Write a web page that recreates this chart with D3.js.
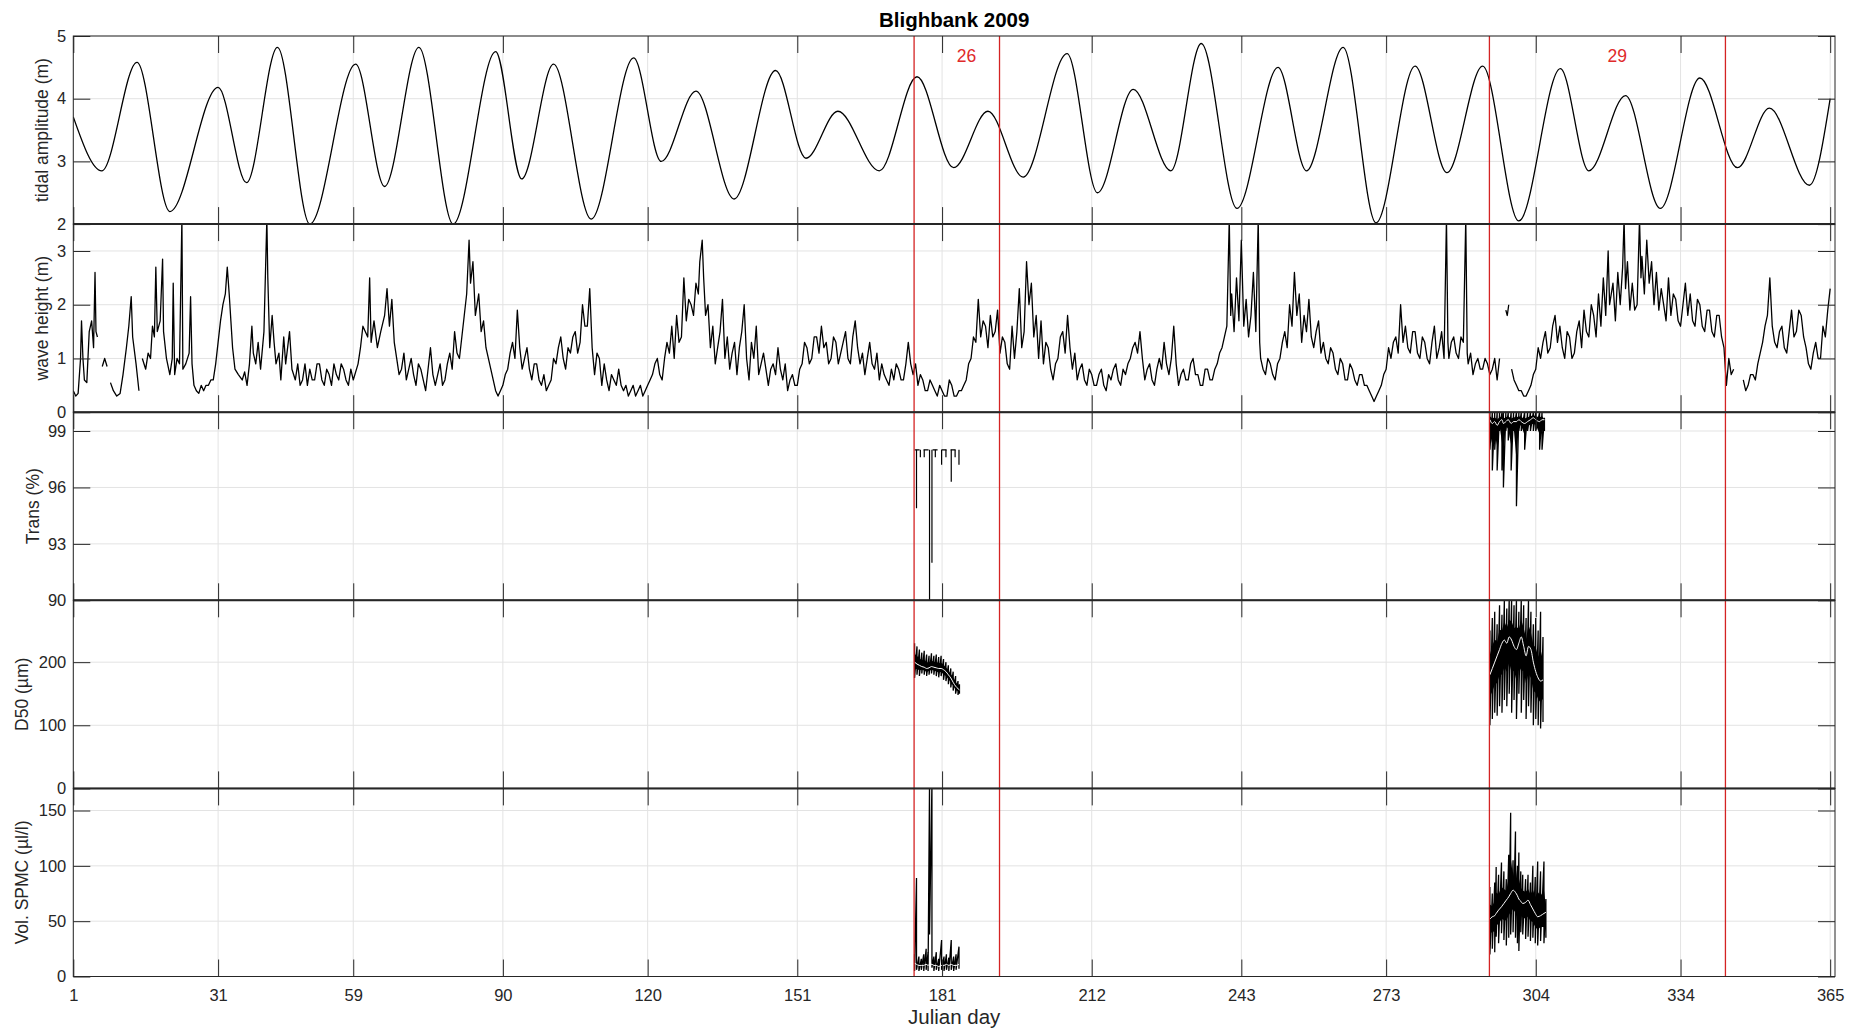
<!DOCTYPE html>
<html>
<head>
<meta charset="utf-8">
<script src="https://cdnjs.cloudflare.com/ajax/libs/d3/7.8.5/d3.min.js"></script>
<style>
  body { margin: 0; background: #fff; }
  svg { display: block; font-family: "Liberation Sans", Arial, Helvetica, sans-serif; }
</style>
</head>
<body>
<svg id="chart" width="1850" height="1032"></svg>
<script>
// ---------- data ----------
const monthTicks = [1, 31, 59, 90, 120, 151, 181, 212, 243, 273, 304, 334, 365]
const deployEdges = [175.2, 192.9, 294.4, 343.3]
const deployNames = ["26", "29"]

const panelLabels = ["tidal amplitude (m)", "wave height (m)", "Trans (%)", "D50 (\u00b5m)", "Vol. SPMC (\u00b5l/l)"]
const panelDomains = [[2, 5], [0, 3.5], [90, 100], [0, 298], [0, 170]]
const panelTicks = [[2, 3, 4, 5], [0, 1, 2, 3], [90, 93, 96, 99], [0, 100, 200], [0, 50, 100, 150]]

// spring / neap extremes of the tidal amplitude [day, m]
const tideExtremes = [
  [1, 3.71], [6.9, 2.85], [14.2, 4.58], [21.0, 2.2], [31.0, 4.18], [36.9, 2.66], [43.3, 4.82], [50.0, 2.0],
  [59.5, 4.55], [65.5, 2.6], [72.6, 4.82], [79.7, 2.0], [88.5, 4.75], [93.9, 2.72], [100.5, 4.55], [108.3, 2.08],
  [117.1, 4.65], [122.8, 3.0], [130.0, 4.12], [137.9, 2.4], [146.5, 4.45], [152.8, 3.05], [159.4, 3.8], [168.0, 2.85],
  [175.8, 4.35], [183.4, 2.9], [190.5, 3.8], [197.8, 2.75], [206.9, 4.72], [213.2, 2.5], [220.6, 4.15], [228.4, 2.85],
  [234.7, 4.88], [242.1, 2.25], [250.6, 4.5], [256.5, 2.85], [264.1, 4.82], [270.9, 2.02], [279.0, 4.52], [285.6, 2.82],
  [293.0, 4.52], [300.5, 2.05], [309.1, 4.48], [315.0, 2.85], [322.6, 4.05], [329.8, 2.25], [338.0, 4.33], [345.8, 2.9],
  [352.4, 3.85], [360.7, 2.62], [365, 4.0]
]

// significant wave height [day, m]; null = no data
const waveHeight = [
  [1,0.4],[1.5,0.3],[2,0.35],[2.5,1.0],[2.7,1.7],[3,1.0],[3.3,0.6],[3.8,0.55],[4.3,1.5],[4.8,1.7],[5.2,1.2],[5.5,2.6],[5.7,1.5],[6,1.4],[6.3,null],
  [7,0.85],[7.5,1.0],[8,0.85],[8.3,null],[8.7,0.55],[9.3,0.4],[10,0.3],[10.7,0.35],[11.3,0.7],[12,1.2],[12.5,1.6],[13,2.15],[13.3,1.4],[14,0.9],[14.6,0.4],[14.9,null],
  [15.3,1.0],[16,0.8],[16.5,1.1],[17,1.0],[17.4,1.6],[17.8,1.4],[18.1,2.7],[18.4,1.5],[19,1.7],[19.5,2.85],[19.7,1.5],[20.3,1.0],[21,0.7],[21.5,1.0],[21.7,2.4],[22,0.7],
  [22.5,1.0],[23,0.9],[23.5,3.6],[23.7,0.8],[24.3,0.9],[25,1.1],[25.3,2.15],[25.6,0.9],[26,0.5],[26.5,0.4],[27,0.35],[27.5,0.5],[28,0.4],[28.5,0.5],[29,0.5],[29.5,0.6],
  [30,0.6],[30.5,0.9],[31,1.3],[31.5,1.7],[32,2.0],[32.5,2.2],[32.9,2.7],[33.3,2.2],[34,1.2],[34.5,0.8],[35.2,0.7],[36,0.6],[36.5,0.75],[37,0.5],[37.5,0.9],[38,1.6],
  [38.3,1.1],[38.8,0.9],[39.3,1.3],[39.8,0.8],[40.5,1.5],[41.1,3.6],[41.3,2.5],[41.7,1.2],[42.2,1.8],[42.6,1.3],[43,0.9],[43.6,1.1],[44,0.6],[44.6,1.4],[45,0.9],
  [45.8,1.5],[46.3,0.8],[47,0.6],[47.5,0.9],[48,0.5],[48.5,0.6],[49,0.9],[49.5,0.5],[50,0.8],[50.5,0.6],[51,0.6],[51.5,0.9],[52,0.9],[52.5,0.6],[53,0.5],[53.5,0.8],
  [54,0.7],[54.5,0.5],[55,0.9],[55.5,0.7],[56,0.6],[56.5,0.9],[57,0.8],[57.5,0.6],[58,0.5],[58.5,0.8],[59,0.6],[60,0.9],[60.5,1.2],[61,1.6],[62,1.4],[62.4,2.5],
  [62.7,1.3],[63.3,1.7],[64,1.2],[64.7,1.5],[65.5,1.8],[66,2.3],[66.5,1.6],[67,2.1],[67.5,1.3],[68,1.0],[68.5,0.7],[69,0.8],[69.5,1.1],[70,0.6],[70.5,0.8],[71,1.0],
  [71.5,0.7],[72,0.5],[72.5,0.9],[73,0.8],[73.5,0.6],[74,0.4],[74.5,0.8],[75,1.2],[75.5,0.7],[76,0.5],[76.5,0.7],[77,0.9],[77.5,0.5],[78,0.6],[78.5,0.9],[79,1.1],
  [79.5,0.8],[80,1.5],[80.5,1.1],[81,1.0],[81.5,1.4],[82,1.8],[82.5,2.2],[83,3.2],[83.3,2.4],[83.8,2.8],[84.3,1.8],[85,2.2],[85.5,1.5],[86,1.7],[86.5,1.2],[87,1.0],
  [87.5,0.8],[88,0.6],[88.5,0.4],[89,0.3],[89.5,0.4],[90,0.5],[90.5,0.7],[91,0.8],[91.5,1.1],[92,1.3],[92.5,1.0],[93,1.9],[93.5,1.2],[94,0.8],[94.5,1.0],[95,1.2],
  [95.5,0.8],[96,0.6],[96.5,0.9],[97,0.9],[97.5,0.6],[98,0.5],[98.5,0.7],[99,0.4],[99.5,0.5],[100,0.6],[100.5,1.0],[101,0.9],[101.5,1.2],[102,1.4],[102.5,1.0],[103,0.8],
  [103.5,1.2],[104,1.1],[104.5,1.4],[105,1.5],[105.5,1.1],[106,1.3],[106.5,2.0],[107,1.6],[107.5,1.6],[108,2.3],[108.5,1.2],[109,0.7],[109.5,1.1],[110,1.0],[110.5,0.5],
  [111,0.9],[111.5,0.6],[112,0.4],[112.5,0.7],[113,0.6],[113.5,0.5],[114,0.8],[114.5,0.5],[115,0.4],[115.5,0.5],[116,0.3],[116.5,0.4],[117,0.5],[117.5,0.3],[118,0.4],
  [118.5,0.5],[119,0.3],[119.5,0.4],[120,0.5],[120.5,0.6],[121,0.7],[121.5,0.9],[122,1.0],[122.5,0.7],[123,0.6],[123.5,1.0],[124,1.3],[124.5,1.1],[125,1.6],[125.5,1.0],
  [126,1.8],[126.5,1.3],[127,1.4],[127.5,2.5],[128,1.7],[128.5,2.1],[129,2.0],[129.5,1.8],[130,2.4],[130.5,2.2],[130.8,2.8],[131.3,3.2],[131.6,2.5],[132,1.8],[132.5,2.0],
  [133,1.2],[133.5,1.6],[134,0.9],[134.5,1.2],[135,1.5],[135.5,2.1],[136,1.0],[136.5,1.4],[137,0.8],[137.5,1.1],[138,1.3],[138.5,0.7],[139,1.2],[139.5,1.5],[140,2.0],
  [140.5,1.0],[141,0.6],[141.5,1.3],[142,1.0],[142.5,1.6],[143,0.7],[143.5,0.9],[144,1.1],[144.5,0.8],[145,0.5],[145.5,0.8],[146,0.9],[146.5,0.7],[147,1.2],[147.5,0.8],
  [148,0.6],[148.5,0.9],[149,0.4],[149.5,0.6],[150,0.7],[150.5,0.5],[151,0.5],[151.5,0.8],[152,0.9],[152.5,1.3],[153,1.2],[153.5,0.9],[154,1.0],[154.5,1.4],[155,1.4],
  [155.5,1.1],[156,1.6],[156.5,1.2],[157,1.3],[157.5,0.9],[158,1.0],[158.5,1.4],[159,1.3],[159.5,0.9],[160,1.1],[160.5,1.3],[161,1.5],[161.5,1.0],[162,0.9],[162.5,1.4],
  [163,1.7],[163.5,1.2],[164,0.9],[164.5,1.1],[165,0.7],[165.5,1.0],[166,1.3],[166.5,0.9],[167,0.8],[167.5,1.1],[168,0.6],[168.5,0.9],[169,0.7],[169.5,0.6],[170,0.5],
  [170.5,0.8],[171,0.6],[171.5,0.9],[172,0.8],[172.5,0.6],[173,0.6],[173.5,0.9],[174,1.3],[174.5,0.9],[175,0.7],[175.5,0.9],[176,0.5],[176.5,0.7],[177,0.6],[177.5,0.4],
  [178,0.4],[178.5,0.6],[179,0.5],[179.5,0.4],[180,0.3],[180.5,0.5],[181,0.4],[181.5,0.3],[182,0.3],[182.5,0.6],[183,0.5],[183.5,0.3],[184,0.3],[184.5,0.4],[185,0.4],
  [185.5,0.5],[186,0.6],[186.5,0.9],[187,1.0],[187.5,1.4],[188,1.3],[188.5,2.1],[189,1.4],[189.5,1.7],[190,1.6],[190.5,1.2],[191,1.8],[191.5,1.4],[192,1.5],[192.5,1.9],
  [193,1.1],[193.5,1.4],[194,1.3],[194.5,0.9],[195,0.8],[195.5,1.6],[196,1.0],[196.5,1.5],[197,2.3],[197.5,1.2],[198,1.5],[198.5,2.8],[199,2.0],[199.5,2.4],[200,1.4],
  [200.5,1.8],[201,1.0],[201.5,1.7],[202,0.9],[202.5,1.3],[203,1.2],[203.5,0.8],[204,0.6],[204.5,0.9],[205,1.0],[205.5,1.4],[206,1.5],[206.5,1.1],[207,1.8],[207.5,1.2],
  [208,0.8],[208.5,1.1],[209,0.6],[209.5,0.8],[210,0.9],[210.5,0.6],[211,0.5],[211.5,0.8],[212,0.7],[212.5,0.5],[213,0.5],[213.5,0.7],[214,0.8],[214.5,0.5],[215,0.4],
  [215.5,0.7],[216,0.6],[216.5,0.8],[217,0.9],[217.5,0.6],[218,0.5],[218.5,0.8],[219,0.7],[219.5,0.9],[220,1.0],[220.5,1.2],[221,1.3],[221.5,1.1],[222,1.5],[222.5,1.0],
  [223,0.6],[223.5,0.8],[224,0.9],[224.5,0.6],[225,0.5],[225.5,0.8],[226,1.0],[226.5,0.8],[227,1.3],[227.5,0.9],[228,0.7],[228.5,1.0],[229,1.6],[229.5,0.9],[230,0.5],
  [230.5,0.7],[231,0.8],[231.5,0.6],[232,0.6],[232.5,0.9],[233,1.0],[233.5,0.7],[234,0.7],[234.5,0.5],[235,0.5],[235.5,0.8],[236,0.8],[236.5,0.6],[237,0.6],[237.5,0.8],
  [238,0.9],[238.5,1.1],[239,1.2],[239.5,1.4],[240,1.6],[240.5,3.6],[240.8,1.8],[241,2.2],[241.5,1.5],[242,2.5],[242.5,1.7],[243,3.2],[243.5,1.6],[244,2.1],[244.5,1.4],
  [245,1.8],[245.5,2.6],[246,1.5],[246.5,3.6],[246.8,1.3],[247,1.0],[247.5,0.8],[248,0.7],[248.5,1.0],[249,0.9],[249.5,0.7],[250,0.6],[250.5,0.9],[251,1.0],[251.5,1.3],
  [252,1.5],[252.5,1.2],[253,2.0],[253.5,1.6],[254,2.6],[254.5,1.8],[255,2.2],[255.5,1.3],[256,1.8],[256.5,1.5],[257,2.1],[257.5,1.4],[258,1.2],[258.5,1.5],[259,1.7],
  [259.5,1.1],[260,1.3],[260.5,1.0],[261,0.9],[261.5,1.2],[262,1.1],[262.5,0.8],[263,0.7],[263.5,1.0],[264,0.9],[264.5,0.6],[265,0.6],[265.5,0.9],[266,0.8],[266.5,0.6],
  [267,0.5],[267.5,0.7],[268,0.7],[268.5,0.5],[269,0.5],[269.5,0.4],[270,0.3],[270.5,0.2],[271,0.3],[271.5,0.4],[272,0.5],[272.5,0.7],[273,0.8],[273.5,1.2],[274,1.0],
  [274.5,1.3],[275,1.4],[275.5,1.1],[276,2.0],[276.5,1.3],[277,1.6],[277.5,1.2],[278,1.1],[278.5,1.5],[279,1.5],[279.5,1.1],[280,1.0],[280.5,1.4],[281,1.3],[281.5,1.0],
  [282,0.9],[282.5,1.3],[283,1.6],[283.5,1.0],[284,1.2],[284.5,1.5],[285,1.0],[285.5,3.6],[285.8,1.3],[286,1.0],[286.5,1.3],[287,1.4],[287.5,1.1],[288,1.0],[288.5,1.4],
  [289,1.3],[289.5,3.6],[289.8,1.1],[290,0.9],[290.5,1.1],[291,0.7],[291.5,0.9],[292,1.0],[292.5,0.8],[293,0.8],[293.5,1.0],[294,0.9],[294.5,0.7],[295,0.8],[295.5,1.0],
  [296,0.6],[296.5,1.0],[296.8,null],[297.8,1.9],[298.1,1.8],[298.4,2.0],[298.7,null],[299,0.8],[299.5,0.6],[300,0.5],[300.5,0.4],[301,0.4],[301.5,0.3],[302,0.3],
  [302.5,0.4],[303,0.5],[303.5,0.7],[304,0.8],[304.5,1.2],[305,1.0],[305.5,1.3],[306,1.5],[306.5,1.1],[307,1.2],[307.5,1.6],[308,1.8],[308.5,1.3],[309,1.6],[309.5,1.2],
  [310,1.0],[310.5,1.5],[311,1.4],[311.5,1.0],[312,1.1],[312.5,1.5],[313,1.7],[313.5,1.2],[314,1.9],[314.5,1.5],[315,1.4],[315.5,2.0],[316,1.8],[316.5,1.4],[317,2.2],
  [317.5,1.6],[318,2.5],[318.5,1.8],[319,3.0],[319.3,2.0],[320,2.4],[320.5,1.7],[321,2.6],[321.5,2.0],[322,2.7],[322.3,3.6],[322.6,2.3],[323,2.8],[323.5,1.9],[324,2.4],
  [324.5,1.9],[325,2.0],[325.5,3.6],[325.8,2.5],[326,2.9],[326.5,2.2],[327,3.2],[327.5,2.4],[328,2.8],[328.5,2.0],[329,2.6],[329.5,1.9],[330,2.3],[330.5,2.0],[331,1.7],
  [331.5,2.5],[332,1.8],[332.5,2.2],[333,2.1],[333.5,1.7],[334,1.6],[334.5,2.0],[335,2.4],[335.5,1.8],[336,2.2],[336.5,1.7],[337,1.6],[337.5,2.1],[338,2.0],[338.5,1.6],
  [339,1.5],[339.5,1.9],[340,1.9],[340.5,1.5],[341,1.4],[341.5,1.8],[342,1.8],[342.5,1.4],[343,1.2],[343.5,0.5],[344,1.0],[344.5,0.7],[345,0.8],[345.5,null],[347,0.6],
  [347.5,0.4],[348,0.5],[348.5,0.7],[349,0.7],[349.5,0.6],[350,0.9],[350.5,1.1],[351,1.3],[351.5,1.6],[352,1.8],[352.5,2.5],[353,1.6],[353.5,1.3],[354,1.2],[354.5,1.5],
  [355,1.6],[355.5,1.2],[356,1.1],[356.5,1.5],[357,1.9],[357.5,1.4],[358,1.5],[358.5,1.9],[359,1.8],[359.5,1.4],[360,1.2],[360.5,0.9],[361,0.8],[361.5,1.1],[362,1.3],
  [362.5,1.0],[363,1.0],[363.5,1.6],[364,1.4],[364.5,1.9],[365,2.3]
]

// deployment 26: transmission [day, lowest, level]
const trans26 = [
  [175.3,98,98],[175.7,94.9,98],[176.5,97.6,98],[177.3,97.6,98],[178.4,90,98],[178.9,92.0,98],
  [179.6,97.6,98],[180.9,97.2,98],[181.8,97.6,98],[182.9,96.3,98],[183.7,97.6,98],[184.5,97.2,98]
]
// deployments: [day, low, high, running median]
const d50_26 = [
  [175.3,175,230,200],[175.8,180,225,197],[176.3,178,220,195],[176.8,182,215,193],[177.3,180,218,192],
  [177.8,178,212,190],[178.3,180,210,191],[178.8,182,214,193],[179.3,180,210,192],[179.8,178,212,191],
  [180.3,176,208,190],[180.8,178,210,190],[181.3,172,205,188],[181.8,170,200,185],[182.3,165,195,180],
  [182.8,160,190,175],[183.3,155,185,168],[183.8,150,178,162],[184.3,148,170,158],[184.6,150,165,156]
]
const spmc26 = [
  [175.3,5,20,12],[175.7,6,89,11],[176.2,5,18,10],[176.7,6,16,10],[177.2,5,20,10],[177.7,6,25,11],
  [178.1,5,22,10],[178.4,38,175,11],[178.9,8,175,11],[179.3,5,18,10],[179.8,6,22,10],[180.3,5,16,9],
  [180.9,6,33,10],[181.4,5,18,10],[181.9,6,20,11],[182.4,5,17,10],[182.9,6,33,11],[183.4,5,18,10],
  [183.9,6,20,10],[184.5,7,27,11]
]
const trans29 = [
  [294.5,98.0,100,99.6],[295.0,96.9,100,99.4],[295.5,98.0,100,99.5],[296.0,96.9,100,99.3],[296.5,99.0,100,99.5],
  [297.0,96.9,100,99.6],[297.3,96.0,100,99.4],[297.8,99.0,100,99.5],[298.3,98.5,100,99.6],[298.9,96.9,100,99.4],
  [299.4,99.0,100,99.5],[300.0,95.0,100,99.5],[300.5,99.0,100,99.6],[301.0,99.0,100,99.5],[301.7,98.0,100,99.4],
  [302.3,99.0,100,99.5],[302.9,99.0,100,99.6],[303.5,99.0,100,99.7],[304.0,99.0,100,99.6],[304.8,98.0,100,99.5],
  [305.3,98.0,100,99.6],[305.8,99.0,99.7,99.6]
]
const d50_29 = [
  [294.5,100,250,180],[295.0,110,270,190],[295.5,120,280,200],[296.0,115,260,210],[296.5,130,290,220],
  [297.0,120,275,230],[297.5,140,300,235],[298.0,130,285,230],[298.5,150,300,240],[299.0,120,300,235],
  [299.5,140,290,225],[300.0,110,300,220],[300.5,150,280,230],[301.0,120,300,240],[301.5,140,290,225],
  [302.0,110,270,210],[302.5,130,300,225],[303.0,120,280,220],[303.5,100,260,200],[304.0,110,270,185],
  [304.5,100,250,175],[305.0,95,280,170],[305.5,105,240,172]
]
const spmc29 = [
  [294.5,20,81,52],[295.0,25,75,54],[295.5,22,85,55],[295.8,36,99,57],[296.3,30,92,60],[296.9,39,103,63],
  [297.4,33,95,66],[297.9,28,88,69],[298.4,35,110,72],[298.8,38,148,75],[299.3,40,105,78],[299.8,35,131,76],
  [300.2,30,100,73],[300.5,23,112,70],[300.9,40,95,68],[301.3,38,92,66],[301.9,34,88,67],[302.4,36,92,69],
  [302.9,32,85,65],[303.4,35,100,61],[303.9,30,90,57],[304.4,28,104,54],[305.0,32,95,55],[305.7,30,104,57],
  [306.1,35,70,58]
]

// ---------- layout ----------
const left = 73.3, right = 1835, top0 = 36, panelH = 188.1
const axisColor = "#262626", gridColor = "#e3e3e3", red = "#d42323"
const labelX = [48, 48, 39, 28, 28]

const svg = d3.select("#chart")
const x = d3.scaleLinear().domain([1, 366]).range([left, right])

const panels = panelLabels.map((label, i) => {
  const top = top0 + i * panelH
  const bottom = top + panelH
  const y = d3.scaleLinear().domain(panelDomains[i]).range([bottom, top])
  return { label, top, bottom, y, ticks: panelTicks[i] }
})

const defs = svg.append("defs")

// grid + clip region for each panel
panels.forEach((p, i) => {
  const g = svg.append("g").attr("class", "grid")
  g.selectAll("line.gx").data(monthTicks).join("line")
    .attr("x1", d => x(d)).attr("x2", d => x(d))
    .attr("y1", p.top).attr("y2", p.bottom)
    .attr("stroke", gridColor)
  g.selectAll("line.gy").data(p.ticks).join("line")
    .attr("x1", left).attr("x2", right)
    .attr("y1", d => p.y(d)).attr("y2", d => p.y(d))
    .attr("stroke", gridColor)

  defs.append("clipPath").attr("id", "clip" + i)
    .append("rect")
    .attr("x", left).attr("y", p.top)
    .attr("width", right - left).attr("height", panelH)
  p.plot = svg.append("g").attr("clip-path", `url(#clip${i})`)
})

// tidal amplitude
const tideLine = d3.line()
  .x(d => x(d[0])).y(d => panels[0].y(d[1]))
  .curve(d3.curveMonotoneX)
panels[0].plot.append("path")
  .datum(tideExtremes)
  .attr("d", tideLine)
  .attr("fill", "none").attr("stroke", "#000").attr("stroke-width", 1.3)

// wave height
const waveLine = d3.line()
  .defined(d => d[1] !== null)
  .x(d => x(d[0])).y(d => panels[1].y(d[1]))
panels[1].plot.append("path")
  .datum(waveHeight)
  .attr("d", waveLine)
  .attr("fill", "none").attr("stroke", "#000").attr("stroke-width", 1.3)
  .attr("stroke-linejoin", "round")

// dense raw records: zig-zag through low / high, black core, white running median on top
function drawBand(p, data, core) {
  const pts = data.flatMap(d => [[d[0], d[2]], [d[0], d[1]]])
  p.plot.append("path")
    .datum(pts)
    .attr("d", d3.line().x(d => x(d[0])).y(d => p.y(d[1])))
    .attr("fill", "none").attr("stroke", "#000").attr("stroke-width", 1.3)
  if (core > 0) {
    p.plot.append("path")
      .datum(data)
      .attr("d", d3.area().x(d => x(d[0]))
        .y0(d => p.y(d[3] - (d[3] - d[1]) * core))
        .y1(d => p.y(d[3] + (d[2] - d[3]) * core)))
      .attr("fill", "#000")
  }
  p.plot.append("path")
    .datum(data)
    .attr("d", d3.line().x(d => x(d[0])).y(d => p.y(d[3])).curve(d3.curveMonotoneX))
    .attr("fill", "none").attr("stroke", "#fff").attr("stroke-width", 1)
}

// transmission, deployment 26: level with dropouts
const pT = panels[2]
pT.plot.append("path")
  .datum(trans26)
  .attr("d", d3.line().x(d => x(d[0])).y(d => pT.y(d[2])))
  .attr("fill", "none").attr("stroke", "#000").attr("stroke-width", 1.2)
  .attr("stroke-dasharray", "5,4")
pT.plot.selectAll("line.drop").data(trans26).join("line")
  .attr("x1", d => x(d[0])).attr("x2", d => x(d[0]))
  .attr("y1", d => pT.y(d[2])).attr("y2", d => pT.y(d[1]))
  .attr("stroke", "#000").attr("stroke-width", 1.2)

drawBand(panels[2], trans29, 0.45)
drawBand(panels[3], d50_26, 0.45)
drawBand(panels[3], d50_29, 0.45)
drawBand(panels[4], spmc26, 0)
drawBand(panels[4], spmc29, 0.45)

// deployment boundaries
svg.append("g").selectAll("line").data(deployEdges).join("line")
  .attr("x1", d => x(d)).attr("x2", d => x(d))
  .attr("y1", top0).attr("y2", top0 + 5 * panelH)
  .attr("stroke", red).attr("stroke-width", 1.3)

svg.append("g").selectAll("text").data(deployNames).join("text")
  .attr("x", (d, i) => x((deployEdges[2 * i] + deployEdges[2 * i + 1]) / 2))
  .attr("y", 62)
  .attr("fill", "#e02a2a")
  .attr("font-size", 17.5)
  .text(d => d)

// axes: ticks inside, on all four sides
panels.forEach((p, i) => {
  const ax = svg.append("g").attr("class", "axes")
  ax.append("g").attr("transform", `translate(${left},0)`)
    .call(d3.axisLeft(p.y).tickValues(p.ticks).tickSizeInner(-17).tickSizeOuter(0)
      .tickPadding(7).tickFormat(d3.format("d")))
  ax.append("g").attr("transform", `translate(${right},0)`)
    .call(d3.axisRight(p.y).tickValues(p.ticks).tickSizeInner(-17).tickSizeOuter(0).tickFormat(""))
  ax.append("g").attr("transform", `translate(0,${p.top})`)
    .call(d3.axisTop(x).tickValues(monthTicks).tickSizeInner(-17).tickSizeOuter(0).tickFormat(""))
  ax.append("g").attr("transform", `translate(0,${p.bottom})`)
    .call(d3.axisBottom(x).tickValues(monthTicks).tickSizeInner(-17).tickSizeOuter(0)
      .tickPadding(13).tickFormat(i === panels.length - 1 ? d3.format("d") : ""))
  ax.selectAll(".domain").remove()
  ax.selectAll(".tick line").attr("stroke", axisColor).attr("stroke-width", 1)
  ax.selectAll(".tick text").attr("fill", axisColor).attr("font-size", 16.5)
    .attr("font-family", "Liberation Sans, Arial, sans-serif")

  ax.append("rect")
    .attr("x", left).attr("y", p.top)
    .attr("width", right - left).attr("height", panelH)
    .attr("fill", "none").attr("stroke", axisColor).attr("stroke-width", 1)

  svg.append("text")
    .attr("transform", `translate(${labelX[i]},${(p.top + p.bottom) / 2}) rotate(-90)`)
    .attr("text-anchor", "middle")
    .attr("fill", axisColor)
    .attr("font-size", 17.5)
    .text(p.label)
})

// heavier separators where two axes boxes meet
svg.append("g").selectAll("line").data(panels.slice(1)).join("line")
  .attr("x1", left).attr("x2", right)
  .attr("y1", d => d.top).attr("y2", d => d.top)
  .attr("stroke", axisColor).attr("stroke-width", 2)

svg.append("text")
  .attr("x", (left + right) / 2).attr("y", 27)
  .attr("text-anchor", "middle")
  .attr("font-weight", "bold").attr("font-size", 20.5)
  .attr("fill", "#000")
  .text("Blighbank 2009")

svg.append("text")
  .attr("x", (left + right) / 2).attr("y", 1024)
  .attr("text-anchor", "middle")
  .attr("font-size", 20.5)
  .attr("fill", axisColor)
  .text("Julian day")
</script>
</body>
</html>
